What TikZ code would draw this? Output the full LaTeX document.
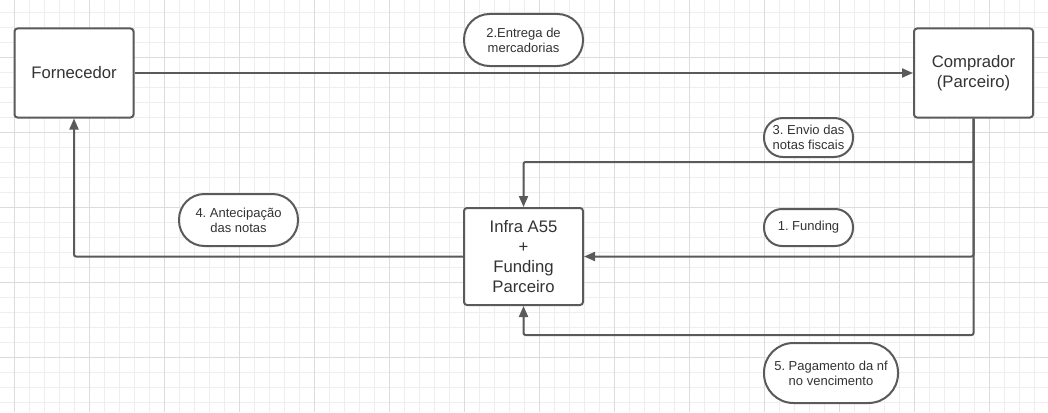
\documentclass[tikz,border=0pt]{standalone}
\usepackage{fontspec}
\setmainfont{Liberation Sans}
\usetikzlibrary{arrows.meta}
\frenchspacing
\definecolor{minorgrid}{HTML}{EEEEEE}
\definecolor{majorgrid}{HTML}{DCDCDC}
\definecolor{edgecol}{HTML}{5A5A5A}
\definecolor{txtcol}{HTML}{333333}
\begin{document}
\begin{tikzpicture}[x=1pt,y=-1pt,
  box/.style={draw=edgecol, line width=2pt, rounded corners=3pt, fill=white, text=txtcol,
    align=center, inner sep=0pt, font=\fontsize{16.7}{20}\selectfont},
  pill/.style={draw=edgecol, line width=2pt, fill=white, text=txtcol,
    align=center, inner sep=0pt, font=\fontsize{13}{15}\selectfont\frenchspacing},
  conn/.style={draw=edgecol, line width=2pt, rounded corners=2pt,
    -{Triangle[length=11pt,width=9pt]}},
  plainline/.style={draw=edgecol, line width=2pt, rounded corners=2pt}]
% background and grid
\fill[white] (0,0) rectangle (1048,412);
\useasboundingbox (0,0) rectangle (1048,412);
\foreach \k in {0,...,69} {
  \pgfmathsetmacro{\xx}{14.5+15*\k}
  \ifnum\numexpr\k-5*(\k/5)\relax=0 \else
  \draw[minorgrid, line width=1pt] (\xx,0) -- (\xx,412);\fi
}
\foreach \k in {0,...,27} {
  \pgfmathsetmacro{\yy}{12.5+15*\k}
  \draw[minorgrid, line width=1pt] (0,\yy) -- (1048,\yy);
}
\foreach \k in {0,...,13} {
  \pgfmathsetmacro{\xx}{14.5+75*\k}
  \draw[majorgrid, line width=1pt] (\xx,0) -- (\xx,412);
}
\foreach \k in {0,...,5} {
  \pgfmathsetmacro{\yy}{57.5+75*\k}
  \draw[majorgrid, line width=1pt] (0,\yy) -- (1048,\yy);
}
% boxes
\node[box, minimum width=119pt, minimum height=89pt] (forn) at (74,73) {Fornecedor};
\node[box, minimum width=119pt, minimum height=89pt] (comp) at (973.5,73) {Comprador\\(Parceiro)};
\node[box, minimum width=119pt, minimum height=97pt] (infra) at (523.5,256.5) {Infra A55\\+\\Funding\\Parceiro};
% connectors
\coordinate (c3) at (523.5,162);
\coordinate (c5) at (523.5,335);
\draw[conn] (forn.east) -- (comp.west);
\draw[conn] (comp.south) |- (c3) -- (infra.north);
\draw[conn] (comp.south) |- (infra.east);
\draw[conn] (comp.south) |- (c5) -- (infra.south);
\draw[conn] (infra.west) -| (forn.south);
% labels
\node[pill, minimum width=119pt, minimum height=52pt, rounded corners=25.5pt] (l2) at (523.5,40) {2.Entrega de\\mercadorias};
\node[pill, minimum width=89pt, minimum height=39pt, rounded corners=19pt] (l3) at (808.5,137.5) {3. Envio das\\notas fiscais};
\node[pill, minimum width=89pt, minimum height=37pt, rounded corners=18pt] (l1) at (808.5,227.5) {1. Funding};
\node[pill, minimum width=134pt, minimum height=60pt, rounded corners=29.5pt] (l5) at (831,373) {5. Pagamento da nf\\no vencimento};
\node[pill, minimum width=119pt, minimum height=52pt, rounded corners=25.5pt] (l4) at (238.5,220) {4. Antecipação\\das notas};
\end{tikzpicture}
\end{document}
